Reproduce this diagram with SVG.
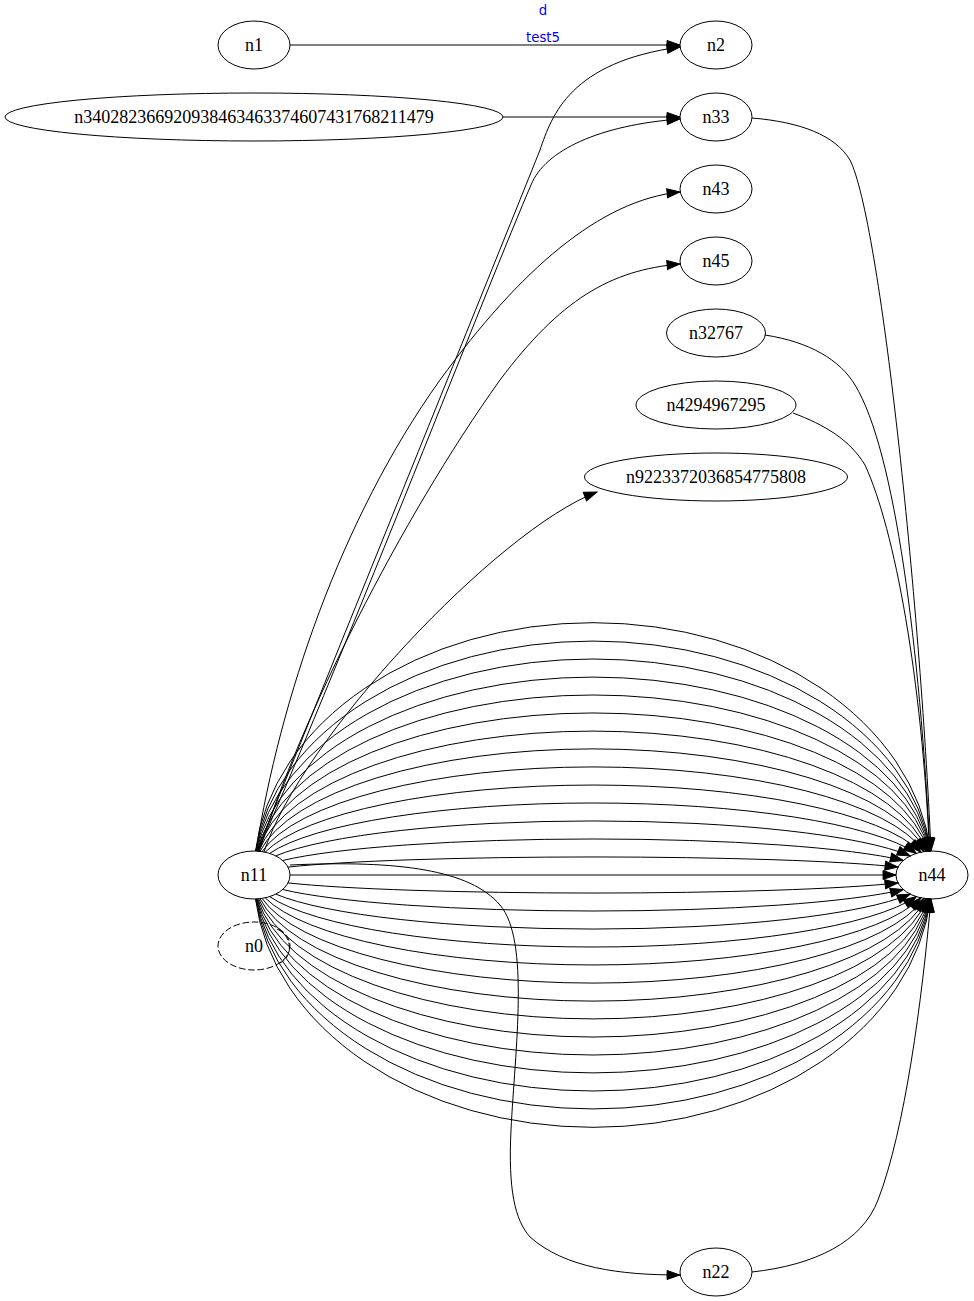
<svg xmlns="http://www.w3.org/2000/svg" width="974" height="1301" viewBox="0 0 974 1301">
<style>
.nd{fill:none;stroke:#000;stroke-width:1}
.dash{stroke-dasharray:6.67,2.67}
.lb{font-family:"Liberation Serif","Times New Roman",serif;font-size:18px;text-anchor:middle;fill:#000}
.el{font-family:"DejaVu Sans",Verdana,sans-serif;font-size:13.33px;text-anchor:middle;fill:#0000ff}
.e{fill:none;stroke:#000;stroke-width:1}
</style>
<defs>
<marker id="ah" markerUnits="userSpaceOnUse" markerWidth="15" markerHeight="11" viewBox="-1 -1 15.33 11.33" refX="13.33" refY="4.67" orient="auto">
<path d="M0,0 L13.33,4.67 L0,9.33 Z" fill="#000" stroke="#000" stroke-width="1"/>
</marker>
</defs>
<rect width="974" height="1301" fill="#fff"/>
<g id="edges">
<path class="e" marker-end="url(#ah)" d="M290,45 L680,45"/>
<path class="e" marker-end="url(#ah)" d="M503,117 L680,117"/>
<path class="e" marker-end="url(#ah)" d="M257,851 C350,620 500,250 540,150 C552,115 570,62 680,47"/>
<path class="e" marker-end="url(#ah)" d="M258,851 C350,640 490,280 531,185 C545,150 600,125 680,119"/>
<path class="e" marker-end="url(#ah)" d="M256,851 C280,700 340,520 440,380 C520,270 600,200 680,192"/>
<path class="e" marker-end="url(#ah)" d="M259,852 C300,720 400,520 500,380 C560,300 610,270 680,264"/>
<path class="e" marker-end="url(#ah)" d="M264,852 C300,740 497,530 597,492"/>
<path class="e" marker-end="url(#ah)" d="M752,118 C800,122 835,135 850,160 C880,220 920,600 931,851"/>
<path class="e" marker-end="url(#ah)" d="M765,335 C810,342 840,360 855,385 C895,450 920,650 930,851"/>
<path class="e" marker-end="url(#ah)" d="M793,413 C825,425 850,440 865,465 C895,530 922,680 929.5,851.5"/>
<path class="e" marker-end="url(#ah)" d="M752,1272 C815,1265 862,1242 878,1200 C905,1130 922,1000 931,899"/>
<path class="e" marker-end="url(#ah)" d="M290,865 C400,860 470,870 500,905 C530,940 515,1050 511,1130 C508,1190 515,1220 530,1237 C565,1268 620,1275 680,1275"/>
<path class="e dash" d="M277,929 C293,936 293,957 280,963"/>
<path class="e" marker-end="url(#ah)" d="M290,875 L896,875"/>
<path class="e" marker-end="url(#ah)" d="M288,867.1 A339,18 0 0 1 898,867.1"/>
<path class="e" marker-end="url(#ah)" d="M282.7,860.5 A339,36 0 0 1 903.3,860.5"/>
<path class="e" marker-end="url(#ah)" d="M275.8,855.9 A339,54 0 0 1 910.2,855.9"/>
<path class="e" marker-end="url(#ah)" d="M269.6,853.4 A339,72 0 0 1 916.4,853.4"/>
<path class="e" marker-end="url(#ah)" d="M265.1,852.2 A339,90 0 0 1 920.9,852.2"/>
<path class="e" marker-end="url(#ah)" d="M262,851.6 A339,108 0 0 1 924,851.6"/>
<path class="e" marker-end="url(#ah)" d="M260,851.3 A339,126 0 0 1 926,851.3"/>
<path class="e" marker-end="url(#ah)" d="M258.7,851.2 A339,144 0 0 1 927.3,851.2"/>
<path class="e" marker-end="url(#ah)" d="M257.7,851.1 A339,162 0 0 1 928.3,851.1"/>
<path class="e" marker-end="url(#ah)" d="M257,851.1 A339,180 0 0 1 929,851.1"/>
<path class="e" marker-end="url(#ah)" d="M256.5,851.1 A339,198 0 0 1 929.5,851.1"/>
<path class="e" marker-end="url(#ah)" d="M256.1,851 A339,216 0 0 1 929.9,851"/>
<path class="e" marker-end="url(#ah)" d="M255.8,851 A339,234 0 0 1 930.2,851"/>
<path class="e" marker-end="url(#ah)" d="M255.5,851 A339,252 0 0 1 930.5,851"/>
<path class="e" marker-end="url(#ah)" d="M288,882.9 A339,18 0 0 0 898,882.9"/>
<path class="e" marker-end="url(#ah)" d="M282.7,889.5 A339,36 0 0 0 903.3,889.5"/>
<path class="e" marker-end="url(#ah)" d="M275.8,894.1 A339,54 0 0 0 910.2,894.1"/>
<path class="e" marker-end="url(#ah)" d="M269.6,896.6 A339,72 0 0 0 916.4,896.6"/>
<path class="e" marker-end="url(#ah)" d="M265.1,897.8 A339,90 0 0 0 920.9,897.8"/>
<path class="e" marker-end="url(#ah)" d="M262,898.4 A339,108 0 0 0 924,898.4"/>
<path class="e" marker-end="url(#ah)" d="M260,898.7 A339,126 0 0 0 926,898.7"/>
<path class="e" marker-end="url(#ah)" d="M258.7,898.8 A339,144 0 0 0 927.3,898.8"/>
<path class="e" marker-end="url(#ah)" d="M257.7,898.9 A339,162 0 0 0 928.3,898.9"/>
<path class="e" marker-end="url(#ah)" d="M257,898.9 A339,180 0 0 0 929,898.9"/>
<path class="e" marker-end="url(#ah)" d="M256.5,898.9 A339,198 0 0 0 929.5,898.9"/>
<path class="e" marker-end="url(#ah)" d="M256.1,899 A339,216 0 0 0 929.9,899"/>
<path class="e" marker-end="url(#ah)" d="M255.8,899 A339,234 0 0 0 930.2,899"/>
<path class="e" marker-end="url(#ah)" d="M255.5,899 A339,252 0 0 0 930.5,899"/>
<text class="el" x="543" y="15">d</text>
<text class="el" x="543" y="42">test5</text>
</g>
<g id="n1"><ellipse class="nd" cx="254" cy="45" rx="36" ry="24"/><text class="lb" x="254" y="51">n1</text></g>
<g id="n2"><ellipse class="nd" cx="716" cy="45" rx="36" ry="24"/><text class="lb" x="716" y="51">n2</text></g>
<g id="n340282366920938463463374607431768211479"><ellipse class="nd" cx="254" cy="117" rx="249" ry="24"/><text class="lb" x="254" y="123">n340282366920938463463374607431768211479</text></g>
<g id="n33"><ellipse class="nd" cx="716" cy="117" rx="36" ry="24"/><text class="lb" x="716" y="123">n33</text></g>
<g id="n43"><ellipse class="nd" cx="716" cy="189" rx="36" ry="24"/><text class="lb" x="716" y="195">n43</text></g>
<g id="n45"><ellipse class="nd" cx="716" cy="261" rx="36" ry="24"/><text class="lb" x="716" y="267">n45</text></g>
<g id="n32767"><ellipse class="nd" cx="716" cy="333" rx="49.5" ry="24"/><text class="lb" x="716" y="339">n32767</text></g>
<g id="n4294967295"><ellipse class="nd" cx="716" cy="405" rx="80" ry="24"/><text class="lb" x="716" y="411">n4294967295</text></g>
<g id="n9223372036854775808"><ellipse class="nd" cx="716" cy="477" rx="131.5" ry="24"/><text class="lb" x="716" y="483">n9223372036854775808</text></g>
<g id="n11"><ellipse class="nd" cx="254" cy="875" rx="36" ry="24"/><text class="lb" x="254" y="881">n11</text></g>
<g id="n0"><ellipse class="nd dash" cx="254" cy="946" rx="36" ry="24"/><text class="lb" x="254" y="952">n0</text></g>
<g id="n44"><ellipse class="nd" cx="932" cy="875" rx="36" ry="24"/><text class="lb" x="932" y="881">n44</text></g>
<g id="n22"><ellipse class="nd" cx="716" cy="1272" rx="36" ry="24"/><text class="lb" x="716" y="1278">n22</text></g>
</svg>
